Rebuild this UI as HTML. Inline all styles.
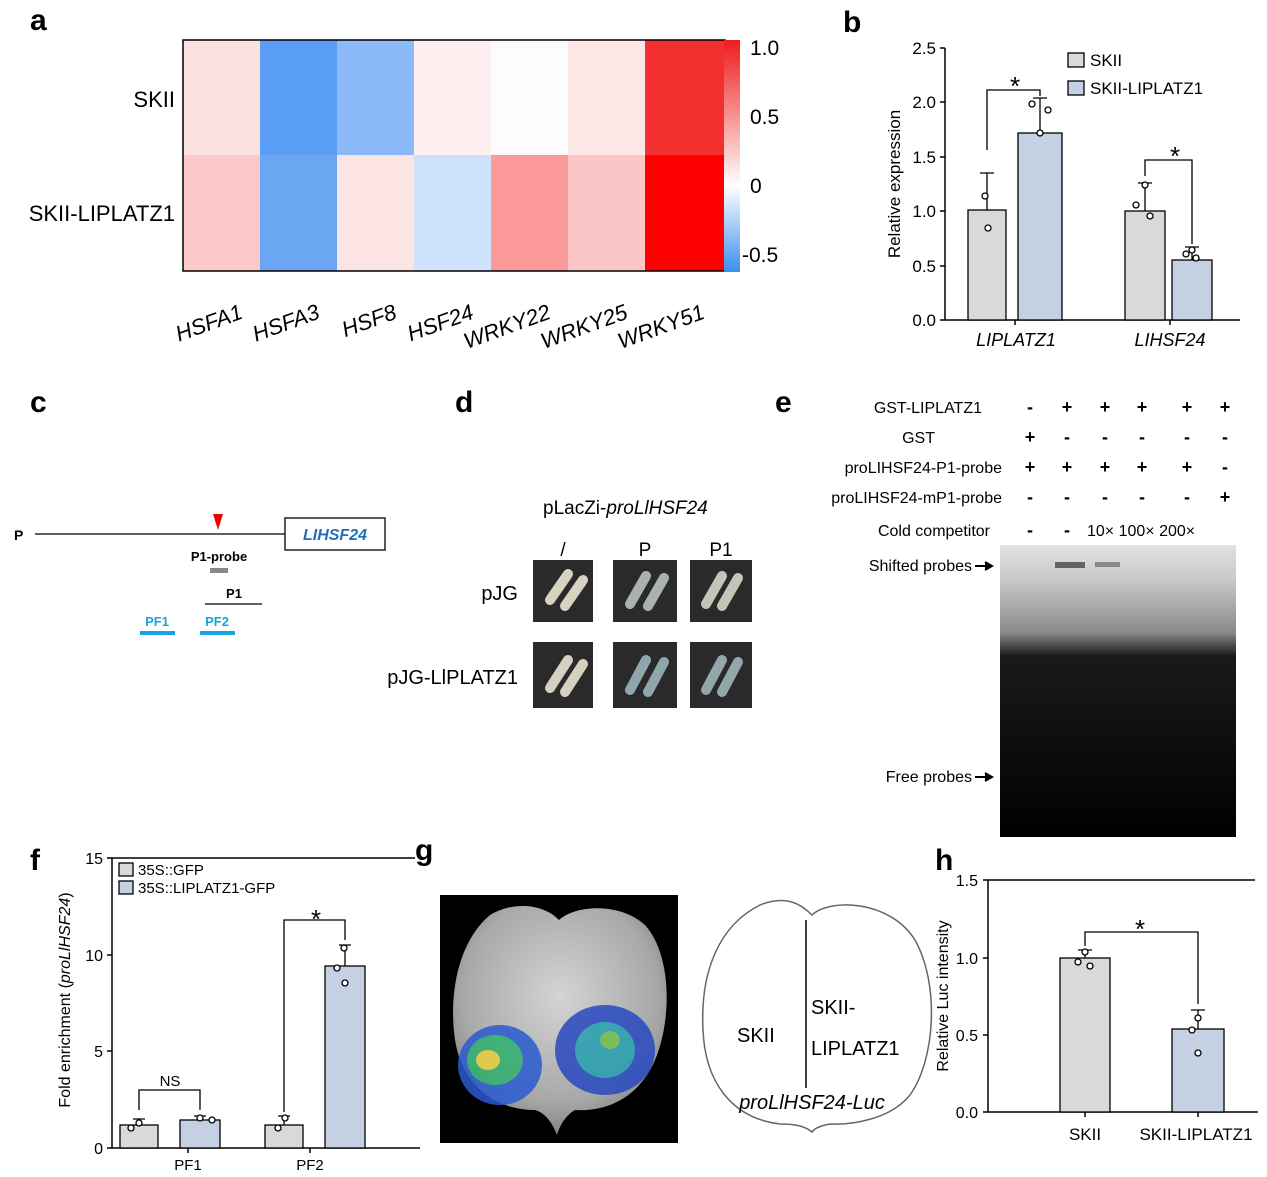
<!DOCTYPE html>
<html><head><meta charset="utf-8"><style>
html,body{margin:0;padding:0;background:#fff}
svg{display:block;font-family:"Liberation Sans",Arial,sans-serif}
</style></head><body>
<svg width="1267" height="1177" viewBox="0 0 1267 1177">
<defs>
<linearGradient id="cb" x1="0" y1="0" x2="0" y2="1">
<stop offset="0" stop-color="#ee1c1c"/><stop offset="0.63" stop-color="#ffffff"/><stop offset="1" stop-color="#3d8ef0"/>
</linearGradient>
<radialGradient id="leaf" cx="0.5" cy="0.4" r="0.65"><stop offset="0" stop-color="#d4d4d4"/><stop offset="0.7" stop-color="#a8a8a8"/><stop offset="1" stop-color="#777"/></radialGradient>
<linearGradient id="gel" x1="0" y1="0" x2="0" y2="1"><stop offset="0" stop-color="#e2e2e2"/><stop offset="0.12" stop-color="#c8c8c8"/><stop offset="0.3" stop-color="#8a8a8a"/><stop offset="0.38" stop-color="#1a1a1a"/><stop offset="1" stop-color="#000"/></linearGradient>
</defs>
<g font-weight="bold" font-size="30">
<text x="30" y="30">a</text><text x="843" y="32">b</text><text x="30" y="412">c</text><text x="455" y="412">d</text><text x="775" y="412">e</text><text x="30" y="870">f</text><text x="415" y="860">g</text><text x="935" y="870">h</text>
</g>
<!-- a heatmap -->
<g>
<rect x="183" y="40" width="78" height="116" fill="#fde0e0"/>
<rect x="260" y="40" width="78" height="116" fill="#5a9ff5"/>
<rect x="337" y="40" width="78" height="116" fill="#8cbaf8"/>
<rect x="414" y="40" width="78" height="116" fill="#fef0f0"/>
<rect x="491" y="40" width="78" height="116" fill="#fcfcff"/>
<rect x="568" y="40" width="78" height="116" fill="#fde6e6"/>
<rect x="645" y="40" width="80" height="116" fill="#f23030"/>
<rect x="183" y="155" width="78" height="116" fill="#fcc8c8"/>
<rect x="260" y="155" width="78" height="116" fill="#6aa6f2"/>
<rect x="337" y="155" width="78" height="116" fill="#fde4e4"/>
<rect x="414" y="155" width="78" height="116" fill="#cfe2fc"/>
<rect x="491" y="155" width="78" height="116" fill="#fc9a9a"/>
<rect x="568" y="155" width="78" height="116" fill="#fcc6c6"/>
<rect x="645" y="155" width="80" height="116" fill="#ff0000"/>
<rect x="183" y="40" width="542" height="231" fill="none" stroke="#000" stroke-width="1.5"/>
<rect x="724" y="40" width="16" height="232" fill="url(#cb)"/>
<g font-size="21"><text x="750" y="55">1.0</text><text x="750" y="124">0.5</text><text x="750" y="193">0</text><text x="742" y="262">-0.5</text></g>
<g font-size="22" text-anchor="end"><text x="175" y="107">SKII</text><text x="175" y="221">SKII-LIPLATZ1</text></g>
<g font-size="22" font-style="italic" text-anchor="end">
<text transform="translate(244,318) rotate(-20)">HSFA1</text>
<text transform="translate(321,318) rotate(-20)">HSFA3</text>
<text transform="translate(398,318) rotate(-20)">HSF8</text>
<text transform="translate(475,318) rotate(-20)">HSF24</text>
<text transform="translate(552,318) rotate(-20)">WRKY22</text>
<text transform="translate(629,318) rotate(-20)">WRKY25</text>
<text transform="translate(706,318) rotate(-20)">WRKY51</text>
</g>
</g>
<!-- b -->
<g stroke="#000" stroke-width="1.5" fill="none">
<path d="M945 48V320H1240"/>
<path d="M940 48h5M940 102h5M940 157h5M940 211h5M940 266h5M940 320h5"/>
<path d="M1015 320v5M1170 320v5"/>
</g>
<g font-size="17" text-anchor="end"><text x="936" y="54">2.5</text><text x="936" y="108">2.0</text><text x="936" y="163">1.5</text><text x="936" y="217">1.0</text><text x="936" y="272">0.5</text><text x="936" y="326">0.0</text></g>
<text transform="translate(900,184) rotate(-90)" font-size="17" text-anchor="middle">Relative expression</text>
<g stroke="#000" stroke-width="1.3">
<rect x="968" y="210" width="38" height="110" fill="#d9d9d9"/>
<rect x="1018" y="133" width="44" height="187" fill="#c5d0e3"/>
<rect x="1125" y="211" width="40" height="109" fill="#d9d9d9"/>
<rect x="1172" y="260" width="40" height="60" fill="#c5d0e3"/>
<path d="M987 210V173M980 173h14M1040 133V98M1033 98h14M1145 211V183M1138 183h14M1192 260V247M1185 247h14" fill="none"/>
<path d="M987 150V90H1040V96M1145 176V160H1192V244" fill="none"/>
<g fill="#fff"><circle cx="985" cy="196" r="3"/><circle cx="988" cy="228" r="3"/><circle cx="1032" cy="104" r="3"/><circle cx="1048" cy="110" r="3"/><circle cx="1040" cy="133" r="3"/><circle cx="1145" cy="185" r="3"/><circle cx="1136" cy="205" r="3"/><circle cx="1150" cy="216" r="3"/><circle cx="1186" cy="254" r="3"/><circle cx="1196" cy="258" r="3"/><circle cx="1192" cy="250" r="3"/></g>
<rect x="1068" y="53" width="16" height="14" fill="#d9d9d9"/><rect x="1068" y="81" width="16" height="14" fill="#c5d0e3"/>
</g>
<text x="1015" y="95" font-size="26" text-anchor="middle">*</text>
<text x="1175" y="165" font-size="26" text-anchor="middle">*</text>
<g font-size="17"><text x="1090" y="66">SKII</text><text x="1090" y="94">SKII-LIPLATZ1</text></g>
<g font-size="18" font-style="italic" text-anchor="middle"><text x="1016" y="346">LIPLATZ1</text><text x="1170" y="346">LIHSF24</text></g>
<!-- c -->
<line x1="35" y1="534" x2="285" y2="534" stroke="#000" stroke-width="1.3"/>
<text x="14" y="540" font-size="14" font-weight="bold">P</text>
<rect x="285" y="518" width="100" height="32" fill="#fff" stroke="#000" stroke-width="1.3"/>
<text x="335" y="540" font-size="16" font-weight="bold" font-style="italic" fill="#1f6fbf" text-anchor="middle">LIHSF24</text>
<path d="M213 514h10l-5 16z" fill="#e00"/>
<text x="219" y="561" font-size="13" font-weight="bold" text-anchor="middle">P1-probe</text>
<rect x="210" y="568" width="18" height="5" fill="#888"/>
<text x="234" y="598" font-size="13" font-weight="bold" text-anchor="middle">P1</text>
<line x1="205" y1="604" x2="262" y2="604" stroke="#000" stroke-width="1.3"/>
<g font-size="13" font-weight="bold" fill="#1aa3e0" text-anchor="middle"><text x="157" y="626">PF1</text><text x="217" y="626">PF2</text></g>
<rect x="140" y="631" width="35" height="4" fill="#1aa3e0"/><rect x="200" y="631" width="35" height="4" fill="#1aa3e0"/>
<!-- d -->
<text x="543" y="514" font-size="19">pLacZi-<tspan font-style="italic">proLlHSF24</tspan></text>
<g font-size="19" text-anchor="middle"><text x="563" y="556">/</text><text x="645" y="556">P</text><text x="721" y="556">P1</text></g>
<g font-size="20" text-anchor="end"><text x="518" y="600">pJG</text><text x="518" y="684">pJG-LlPLATZ1</text></g>
<g fill="#2a2a2a"><rect x="533" y="560" width="60" height="62"/><rect x="613" y="560" width="64" height="62"/><rect x="690" y="560" width="62" height="62"/><rect x="533" y="642" width="60" height="66"/><rect x="613" y="642" width="64" height="66"/><rect x="690" y="642" width="62" height="66"/></g>
<g stroke-width="10" stroke-linecap="round" fill="none">
<path d="M550 600l18-26M565 606l18-26" stroke="#d8d2c0"/>
<path d="M630 604l16-28M648 606l16-28" stroke="#a9b2b0"/>
<path d="M706 604l16-28M722 606l16-28" stroke="#c4c4b8"/>
<path d="M550 688l18-28M565 692l18-28" stroke="#d6d0c0"/>
<path d="M630 690l16-30M648 692l16-30" stroke="#8ea6ac"/>
<path d="M706 690l16-30M722 692l16-30" stroke="#93a6aa"/>
</g>
<!-- e -->
<g font-size="16" text-anchor="end"><text x="982" y="413">GST-LIPLATZ1</text><text x="935" y="443">GST</text><text x="1002" y="473">proLIHSF24-P1-probe</text><text x="1002" y="503">proLIHSF24-mP1-probe</text><text x="990" y="536">Cold competitor</text></g>
<g font-size="18" text-anchor="middle" font-weight="bold">
<text x="1030" y="413">-</text><text x="1067" y="413">+</text><text x="1105" y="413">+</text><text x="1142" y="413">+</text><text x="1187" y="413">+</text><text x="1225" y="413">+</text>
<text x="1030" y="443">+</text><text x="1067" y="443">-</text><text x="1105" y="443">-</text><text x="1142" y="443">-</text><text x="1187" y="443">-</text><text x="1225" y="443">-</text>
<text x="1030" y="473">+</text><text x="1067" y="473">+</text><text x="1105" y="473">+</text><text x="1142" y="473">+</text><text x="1187" y="473">+</text><text x="1225" y="473">-</text>
<text x="1030" y="503">-</text><text x="1067" y="503">-</text><text x="1105" y="503">-</text><text x="1142" y="503">-</text><text x="1187" y="503">-</text><text x="1225" y="503">+</text>
<text x="1030" y="536">-</text><text x="1067" y="536">-</text>
</g>
<text x="1087" y="536" font-size="16">10× 100× 200×</text>
<rect x="1000" y="545" width="236" height="292" fill="url(#gel)"/>
<rect x="1055" y="562" width="30" height="6" fill="#333" opacity="0.7"/><rect x="1095" y="562" width="25" height="5" fill="#555" opacity="0.6"/>
<g font-size="16" text-anchor="end"><text x="972" y="571">Shifted probes</text><text x="972" y="782">Free probes</text></g>
<path d="M975 566h16M985 562l7 4-7 4M975 777h16M985 773l7 4-7 4" stroke="#000" fill="#000" stroke-width="2"/>
<!-- f -->
<g stroke="#000" stroke-width="1.5" fill="none">
<path d="M415 858H112V1148H420"/>
<path d="M107 858h5M107 955h5M107 1051h5M107 1148h5M188 1148v5M310 1148v5"/>
</g>
<g font-size="16" text-anchor="end"><text x="103" y="864">15</text><text x="103" y="961">10</text><text x="103" y="1057">5</text><text x="103" y="1154">0</text></g>
<text transform="translate(70,1000) rotate(-90)" font-size="16" text-anchor="middle">Fold enrichment (<tspan font-style="italic">proLlHSF24</tspan>)</text>
<g stroke="#000" stroke-width="1.3">
<rect x="120" y="1125" width="38" height="23" fill="#d9d9d9"/><rect x="180" y="1120" width="40" height="28" fill="#c5d0e3"/>
<rect x="265" y="1125" width="38" height="23" fill="#d9d9d9"/><rect x="325" y="966" width="40" height="182" fill="#c5d0e3"/>
<path d="M139 1125v-6M133 1119h12M200 1120v-4M194 1116h12M284 1125v-9M278 1116h12M345 966v-21M339 945h12M139 1110v-20H200v20M284 1112V920H345V940" fill="none"/>
<g fill="#fff"><circle cx="139" cy="1123" r="3"/><circle cx="131" cy="1128" r="3"/><circle cx="200" cy="1118" r="3"/><circle cx="212" cy="1120" r="3"/><circle cx="285" cy="1118" r="3"/><circle cx="278" cy="1128" r="3"/><circle cx="344" cy="948" r="3"/><circle cx="337" cy="968" r="3"/><circle cx="345" cy="983" r="3"/></g>
<rect x="119" y="863" width="14" height="13" fill="#d9d9d9"/><rect x="119" y="881" width="14" height="13" fill="#c5d0e3"/>
</g>
<g font-size="15"><text x="138" y="875">35S::GFP</text><text x="138" y="893">35S::LIPLATZ1-GFP</text></g>
<text x="170" y="1086" font-size="15" text-anchor="middle">NS</text>
<text x="316" y="928" font-size="26" text-anchor="middle">*</text>
<g font-size="15" text-anchor="middle"><text x="188" y="1170">PF1</text><text x="310" y="1170">PF2</text></g>
<!-- g -->
<rect x="440" y="895" width="238" height="248" fill="#000"/>
<path d="M559 920C575 905 620 902 645 925C672 955 672 1020 655 1060C640 1095 610 1112 575 1110C566 1115 560 1125 557 1135C552 1122 545 1113 535 1110C495 1110 462 1085 455 1040C448 990 460 940 490 915C515 900 545 905 559 920Z" fill="url(#leaf)"/>
<g opacity="0.85">
<ellipse cx="500" cy="1065" rx="42" ry="40" fill="#2a5bd0"/><ellipse cx="495" cy="1060" rx="28" ry="25" fill="#30b070"/><ellipse cx="488" cy="1060" rx="12" ry="10" fill="#e8d040"/>
<ellipse cx="605" cy="1050" rx="50" ry="45" fill="#2848c0"/><ellipse cx="605" cy="1050" rx="30" ry="28" fill="#25a0b0"/><ellipse cx="610" cy="1040" rx="10" ry="9" fill="#70c050"/>
</g>
<path d="M812 915C830 898 890 900 915 940C940 985 935 1060 910 1095C890 1120 850 1125 830 1124C820 1126 815 1128 812 1132C805 1126 795 1124 780 1124C730 1118 705 1080 703 1030C700 970 720 925 760 905C785 895 800 903 812 915Z" fill="#fff" stroke="#666" stroke-width="1.5"/>
<line x1="806" y1="920" x2="806" y2="1088" stroke="#000" stroke-width="1.5"/>
<g font-size="20"><text x="737" y="1042">SKII</text><text x="811" y="1014">SKII-</text><text x="811" y="1055">LIPLATZ1</text></g>
<text x="812" y="1109" font-size="20" font-style="italic" text-anchor="middle">proLlHSF24-Luc</text>
<!-- h -->
<g stroke="#000" stroke-width="1.5" fill="none">
<path d="M1255 880H988V1112H1258"/>
<path d="M983 880h5M983 958h5M983 1035h5M983 1112h5M1085 1112v5M1198 1112v5"/>
</g>
<g font-size="16" text-anchor="end"><text x="978" y="886">1.5</text><text x="978" y="964">1.0</text><text x="978" y="1041">0.5</text><text x="978" y="1118">0.0</text></g>
<text transform="translate(948,996) rotate(-90)" font-size="16" text-anchor="middle">Relative Luc intensity</text>
<g stroke="#000" stroke-width="1.3">
<rect x="1060" y="958" width="50" height="154" fill="#d9d9d9"/><rect x="1172" y="1029" width="52" height="83" fill="#c5d0e3"/>
<path d="M1085 958v-8M1078 950h14M1198 1029v-19M1191 1010h14M1085 946v-14H1198v72" fill="none"/>
<g fill="#fff"><circle cx="1085" cy="952" r="3"/><circle cx="1078" cy="962" r="3"/><circle cx="1090" cy="966" r="3"/><circle cx="1198" cy="1018" r="3"/><circle cx="1192" cy="1030" r="3"/><circle cx="1198" cy="1053" r="3"/></g>
</g>
<text x="1140" y="938" font-size="26" text-anchor="middle">*</text>
<g font-size="17" text-anchor="middle"><text x="1085" y="1140">SKII</text><text x="1196" y="1140">SKII-LIPLATZ1</text></g>
</svg>
</body></html>
